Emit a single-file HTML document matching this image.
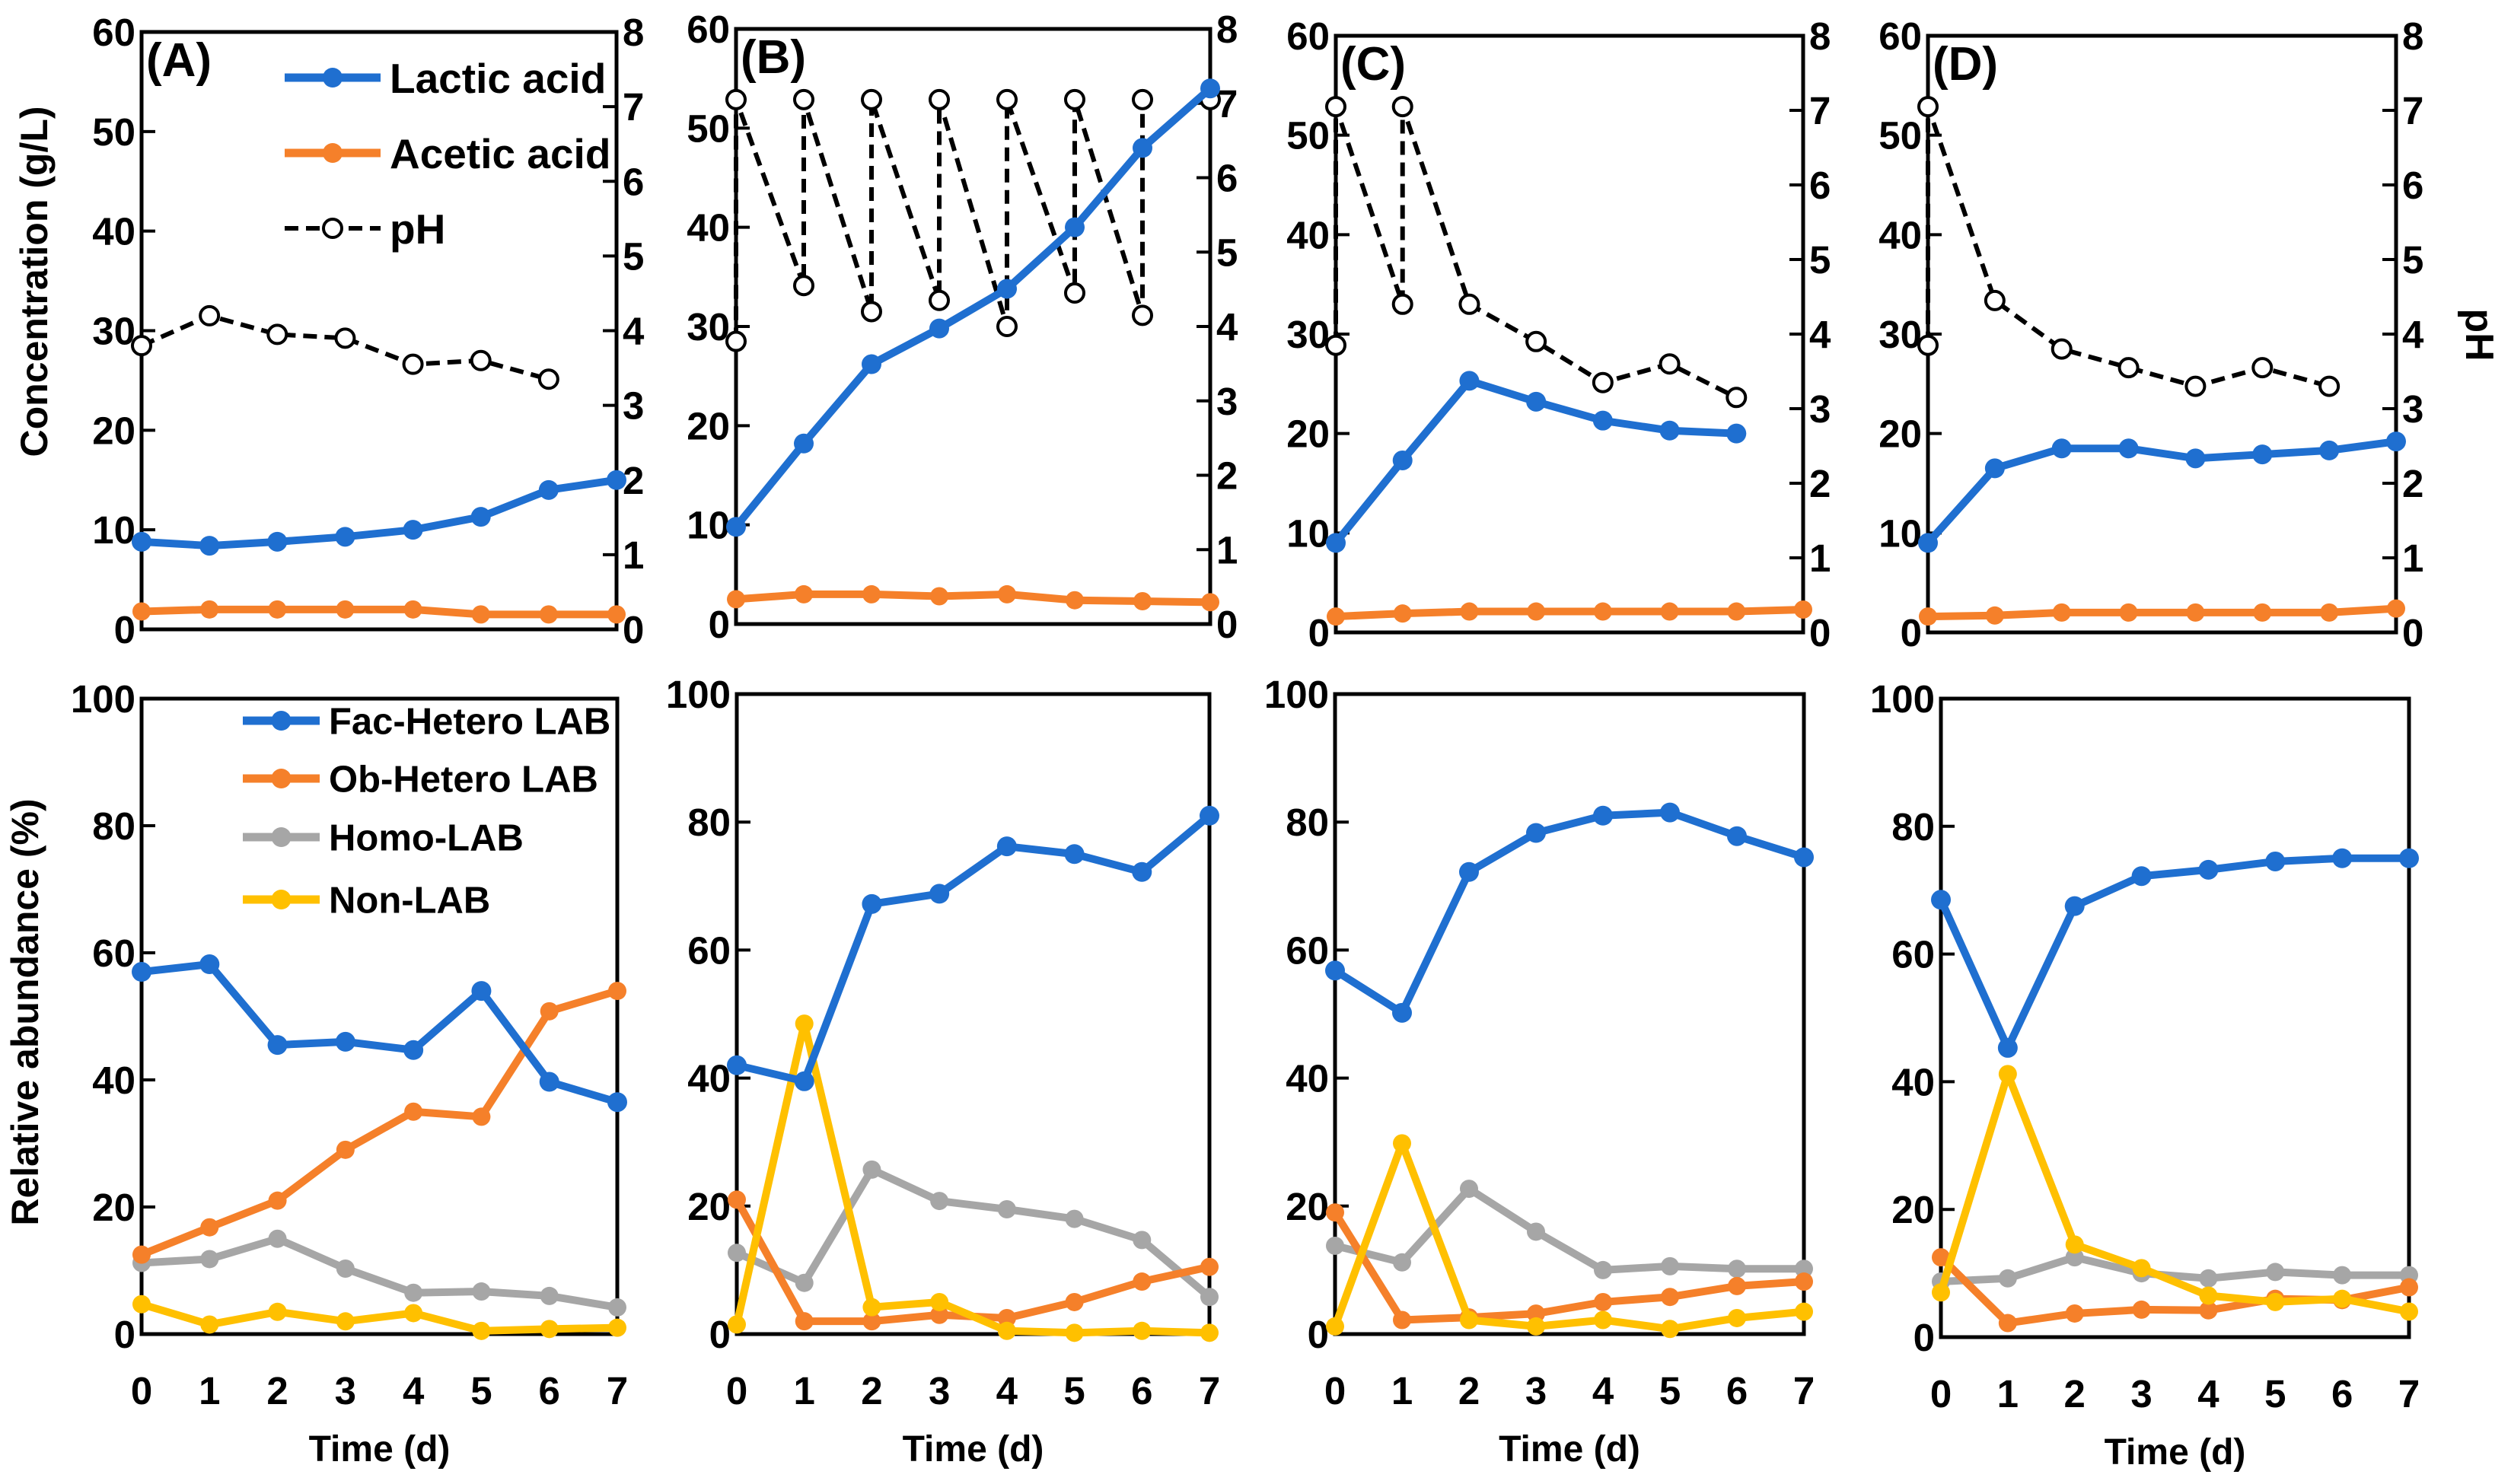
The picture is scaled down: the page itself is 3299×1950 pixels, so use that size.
<!DOCTYPE html>
<html><head><meta charset="utf-8"><style>
html,body{margin:0;padding:0;background:#fff;}
svg{display:block;font-family:"Liberation Sans",sans-serif;font-weight:bold;}
</style></head><body>
<svg id="fig" width="3299" height="1950" viewBox="0 0 3299 1950" xmlns="http://www.w3.org/2000/svg">
<text x="62" y="370" font-size="50" text-anchor="middle" transform="rotate(-90 62 370)">Concentration (g/L)</text>
<text x="50" y="1330" font-size="50" text-anchor="middle" transform="rotate(-90 50 1330)">Relative abundance (%)</text>
<text x="3240" y="440" font-size="52" text-anchor="middle" transform="rotate(90 3240 440)">pH</text>
</svg>
<script>
const days = [0,1,2,3,4,5,6,7];
const concTicks = [0,10,20,30,40,50,60];
const phTicks = [0,1,2,3,4,5,6,7,8];
const abundTicks = [0,20,40,60,80,100];
const panelNames = ["A","B","C","D"];
// top: lactic / acetic (g/L)
const lacticA = [8.8,8.4,8.8,9.3,10.0,11.3,14.0,15.0];
const lacticB = [9.8,18.2,26.2,29.8,33.8,40,48,54];
const lacticC = [9,17.3,25.3,23.2,21.3,20.3,20.0];
const lacticD = [9,16.5,18.5,18.5,17.5,17.9,18.3,19.2];
const aceticA = [1.8,2,2,2,2,1.5,1.5,1.5];
const aceticB = [2.5,3,3,2.8,3,2.4,2.3,2.2];
const aceticC = [1.6,1.9,2.1,2.1,2.1,2.1,2.1,2.3];
const aceticD = [1.6,1.7,2,2,2,2,2,2.4];
// pH: day index and value
const phDaysA = [0,1,2,3,4,5,6];
const phValsA = [3.8,4.2,3.95,3.9,3.55,3.6,3.35];
const phDaysB = [0,0,1,1,2,2,3,3,4,4,5,5,6,6];
const phValsB = [3.8,7.05,4.55,7.05,4.2,7.05,4.35,7.05,4.0,7.05,4.45,7.05,4.15,7.05];
const phExtraDayB = [7];
const phExtraValB = [7.05];
const phDaysC = [0,0,1,1,2,3,4,5,6];
const phValsC = [3.85,7.05,4.4,7.05,4.4,3.9,3.35,3.6,3.15];
const phDaysD = [0,0,1,2,3,4,5,6];
const phValsD = [3.85,7.05,4.45,3.8,3.55,3.3,3.55,3.3];
// bottom: relative abundance (%)
const facA = [57,58.2,45.5,46,44.7,54,39.7,36.5];
const obA = [12.5,16.8,21,29,35,34.2,50.8,54];
const homoA = [11.2,11.8,15,10.3,6.5,6.7,6,4.2];
const nonA = [4.7,1.5,3.5,2,3.3,0.5,0.8,1];
const facB = [42,39.5,67.2,68.8,76.2,75,72.2,81];
const obB = [21,2,2,3,2.5,5,8.2,10.5];
const homoB = [12.7,8,25.7,20.8,19.5,18,14.7,5.8];
const nonB = [1.5,48.5,4.2,5,0.5,0.2,0.5,0.2];
const facC = [56.8,50.2,72.2,78.3,81,81.5,77.8,74.5];
const obC = [19,2.2,2.6,3.2,5,5.8,7.5,8.2];
const homoC = [13.8,11.2,22.7,16,10,10.6,10.2,10.2];
const nonC = [1.2,29.8,2.2,1.2,2.2,0.8,2.5,3.5];
const facD = [68.5,45.3,67.5,72.2,73.2,74.5,75,75];
const obD = [12.5,2.2,3.7,4.3,4.2,6,5.8,7.8];
const homoD = [8.7,9.2,12.5,10,9.2,10.2,9.7,9.7];
const nonD = [7,41.2,14.5,10.8,6.5,5.5,6,4];

const BLUE="#1f6fd0", ORANGE="#f5802a", GRAY="#a6a6a6", YELLOW="#ffc000";
const svg=document.getElementById('fig');
const NS="http://www.w3.org/2000/svg";
function mk(tag,attrs,parent){const e=document.createElementNS(NS,tag);for(const k in attrs)e.setAttribute(k,attrs[k]);(parent||svg).appendChild(e);return e;}

const topFrames=[[186,810,42,827],[967,1590,38,820],[1755,2369,47,831],[2533,3148,47,831]];
const botFrames=[[186,811,918,1753],[968,1589,912,1753],[1754,2370,912,1753],[2550,3165,918,1757]];

function xs(f){return d=>f[0]+(f[1]-f[0])*d/7;}
function ys(f,max){return v=>f[3]-(f[3]-f[2])*v/max;}

function series(g,xArr,yArr,X,Y,color,w,r,name){
  const pts=xArr.map((d,i)=>X(d)+','+Y(yArr[i])).join(' ');
  const pl=mk('polyline',{points:pts,fill:'none',stroke:color,'stroke-width':w,'stroke-linejoin':'round'},g);
  
  
  xArr.forEach((d,i)=>{
    const c=mk('circle',{cx:X(d),cy:Y(yArr[i]),r:r,fill:color},g);
    
    
  });
}
function phSeries(g,xArr,yArr,X,Y,name,connect){
  if(connect){
    const pts=xArr.map((d,i)=>X(d)+','+Y(yArr[i])).join(' ');
    const pl=mk('polyline',{points:pts,fill:'none',stroke:'#000','stroke-width':6,'stroke-dasharray':'18 10'},g);
    
    
  }
  xArr.forEach((d,i)=>{
    const c=mk('circle',{cx:X(d),cy:Y(yArr[i]),r:12,fill:'#fff',stroke:'#000','stroke-width':4},g);
    
    
  });
}
function frame(g,f){
  const r=mk('rect',{x:f[0],y:f[2],width:f[1]-f[0],height:f[3]-f[2],fill:'none',stroke:'#000','stroke-width':5},g);
  
  
}

const lactics=[lacticA,lacticB,lacticC,lacticD];
const acetics=[aceticA,aceticB,aceticC,aceticD];
const phD=[phDaysA,phDaysB,phDaysC,phDaysD];
const phV=[phValsA,phValsB,phValsC,phValsD];
const facs=[facA,facB,facC,facD],obs=[obA,obB,obC,obD],homos=[homoA,homoB,homoC,homoD],nons=[nonA,nonB,nonC,nonD];

for(let p=0;p<4;p++){
  const f=topFrames[p];
  const g=mk('g',{});
  
  
  const X=xs(f),Y=ys(f,60),YP=ys(f,8);
  frame(g,f);
  concTicks.forEach(t=>{
    mk('line',{x1:f[0],x2:f[0]+18,y1:Y(t),y2:Y(t),stroke:'#000','stroke-width':4},g);
    const tx=mk('text',{x:f[0]-8,y:Y(t)+18,'font-size':51,'text-anchor':'end'},g);
    tx.textContent=t;
    
    
  });
  phTicks.forEach(t=>{
    mk('line',{x1:f[1]-18,x2:f[1],y1:YP(t),y2:YP(t),stroke:'#000','stroke-width':4},g);
    const tx=mk('text',{x:f[1]+8,y:YP(t)+18,'font-size':51,'text-anchor':'start'},g);
    tx.textContent=t;
    
    
  });
  const lbl=mk('text',{x:f[0]+6,y:f[2]+58,'font-size':62},g);
  lbl.textContent='('+panelNames[p]+')';
  
  
  phSeries(g,phD[p],phV[p],X,YP,'ph',true);
  if(p===1) phSeries(g,phExtraDayB,phExtraValB,X,YP,'ph',false);
  series(g,days.slice(0,acetics[p].length),acetics[p],X,Y,ORANGE,10,12,'acetic-acid');
  series(g,days.slice(0,lactics[p].length),lactics[p],X,Y,BLUE,10,13,'lactic-acid');
}

for(let p=0;p<4;p++){
  const f=botFrames[p];
  const g=mk('g',{});
  
  
  const X=xs(f),Y=ys(f,100);
  frame(g,f);
  abundTicks.forEach(t=>{
    mk('line',{x1:f[0],x2:f[0]+18,y1:Y(t),y2:Y(t),stroke:'#000','stroke-width':4},g);
    const tx=mk('text',{x:f[0]-8,y:Y(t)+18,'font-size':51,'text-anchor':'end'},g);
    tx.textContent=t;
    
    
  });
  days.forEach(d=>{
    const tx=mk('text',{x:X(d),y:f[3]+92,'font-size':51,'text-anchor':'middle'},g);
    tx.textContent=d;
    
    
  });
  const tt=mk('text',{x:(f[0]+f[1])/2,y:f[3]+167,'font-size':48,'text-anchor':'middle'},g);
  tt.textContent='Time (d)';
  
  
  series(g,days,homos[p],X,Y,GRAY,10,12,'homo-lab');
  series(g,days,obs[p],X,Y,ORANGE,10,12,'ob-hetero-lab');
  series(g,days,nons[p],X,Y,YELLOW,10,12,'non-lab');
  series(g,days,facs[p],X,Y,BLUE,10,13,'fac-hetero-lab');
}

// legends
function legendRow(x1,x2,y,color,label,dashed,fs){
  const g=mk('g',{});
  
  
  if(dashed){
    mk('line',{x1:x1,x2:x2,y1:y,y2:y,stroke:'#000','stroke-width':6,'stroke-dasharray':'18 10'},g);
    mk('circle',{cx:(x1+x2)/2,cy:y,r:12,fill:'#fff',stroke:'#000','stroke-width':4},g);
  } else {
    mk('line',{x1:x1,x2:x2,y1:y,y2:y,stroke:color,'stroke-width':11},g);
    mk('circle',{cx:(x1+x2)/2,cy:y,r:13,fill:color},g);
  }
  const t=mk('text',{x:x2+12,y:y+fs*0.36,'font-size':fs},g);
  t.textContent=label;
}
legendRow(374,500,102,BLUE,'Lactic acid',false,55);
legendRow(374,500,201,ORANGE,'Acetic acid',false,55);
legendRow(374,500,300,'#000','pH',true,55);
legendRow(319,420,947,BLUE,'Fac-Hetero LAB',false,49);
legendRow(319,420,1023,ORANGE,'Ob-Hetero LAB',false,49);
legendRow(319,420,1100,GRAY,'Homo-LAB',false,49);
legendRow(319,420,1182,YELLOW,'Non-LAB',false,49);
</script>
</body></html>
